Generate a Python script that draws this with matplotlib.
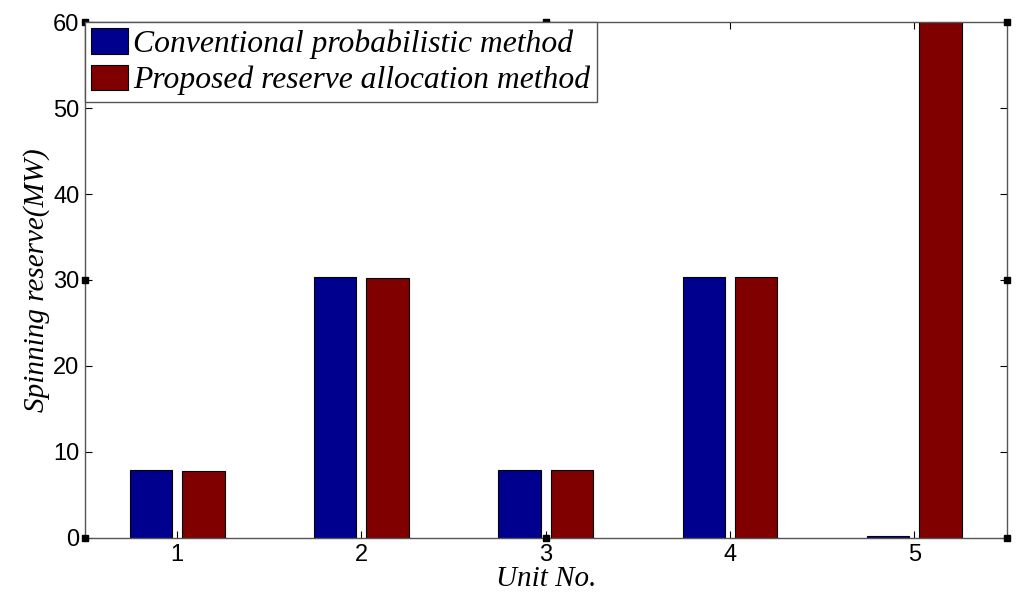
import numpy as np
import matplotlib.pyplot as plt

units = ['1', '2', '3', '4', '5']
conventional = [7.9, 30.4, 7.9, 30.4, 0.2]
proposed = [7.8, 30.2, 7.9, 30.4, 60.0]

blue = '#00008f'
red = '#800000'
serif = ['Liberation Serif', 'DejaVu Serif']
sans = ['Liberation Sans', 'DejaVu Sans']

fig = plt.figure(figsize=(10.24, 6.12), dpi=100)
ax = fig.add_axes([0.083, 0.121, 0.9, 0.843])

x = np.arange(1, len(units) + 1)
w = 0.23
ax.bar(x - 0.142, conventional, w, color=blue, edgecolor='black', linewidth=0.8,
       label='Conventional probabilistic method')
ax.bar(x + 0.142, proposed, w, color=red, edgecolor='black', linewidth=0.8,
       label='Proposed reserve allocation method')

ax.set_xlim(0.5, 5.5)
ax.set_ylim(0, 60)
ax.set_xticks(x)
ax.set_xticklabels(units, fontfamily=sans, fontsize=17)
ax.set_yticks(np.arange(0, 61, 10))
ax.set_yticklabels([str(v) for v in range(0, 61, 10)], fontfamily=sans, fontsize=17)
ax.tick_params(direction='in', length=5, width=0.8, top=True, right=True, pad=4)

for s in ax.spines.values():
    s.set_color('#555555')
    s.set_linewidth(1.0)

ax.set_xlabel('Unit No.', fontfamily=serif, fontstyle='italic', fontsize=21, labelpad=0)
ax.set_ylabel('Spinning reserve(MW)', fontfamily=serif, fontstyle='italic', fontsize=21, labelpad=2)

leg = ax.legend(loc='upper left', bbox_to_anchor=(0, 1), borderaxespad=0,
                prop={'family': serif, 'style': 'italic', 'size': 22.8},
                fancybox=False, framealpha=1, edgecolor='#555555',
                handlelength=1.17, handleheight=0.85, handletextpad=0.16,
                labelspacing=0.18, borderpad=0.2)
leg.get_frame().set_linewidth(1.0)

# small square markers that appear on the frame of the original image
for px, py in [(0, 0), (0, 0.5), (0, 1), (1, 0), (1, 0.5), (1, 1), (0.5, 0), (0.5, 1)]:
    ax.plot(px, py, 's', color='black', markersize=4, transform=ax.transAxes, clip_on=False, zorder=5)

plt.savefig('out.png', dpi=100)
